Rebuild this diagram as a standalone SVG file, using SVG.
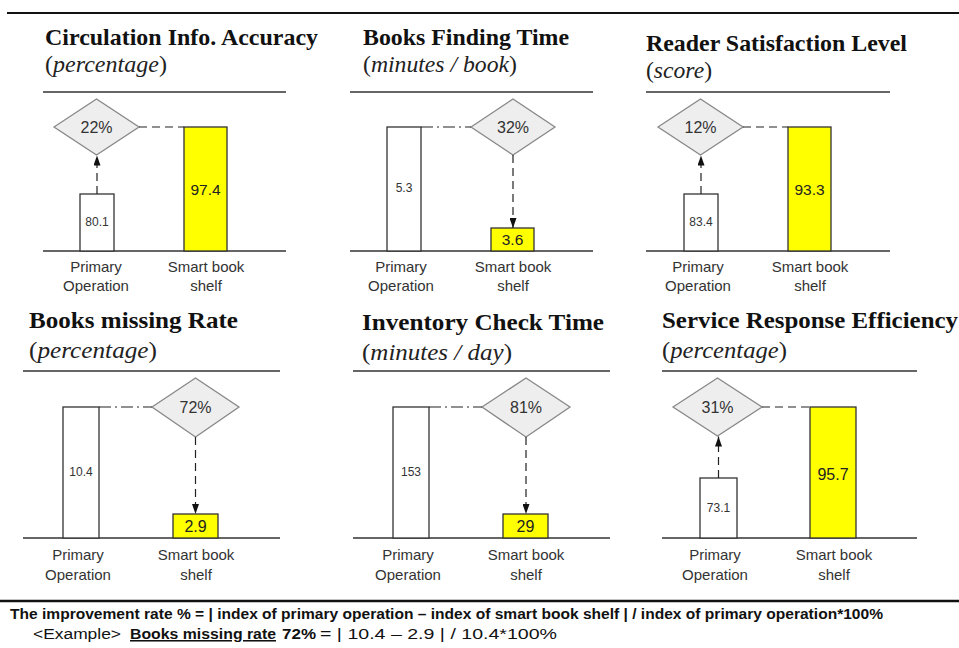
<svg xmlns="http://www.w3.org/2000/svg" width="959" height="648" viewBox="0 0 959 648">
<defs>
<style>
.title{font-family:"Liberation Serif","Times New Roman",serif;font-weight:bold;font-size:23px;fill:#111}
.unit{font-family:"Liberation Serif","Times New Roman",serif;font-size:23px;fill:#222}
.it{font-style:italic}
.rule{stroke:#333;stroke-width:1.3}
.thick{stroke:#111;stroke-width:2.2}
.bar{fill:#fff;stroke:#333;stroke-width:1.3}
.ybar{fill:#ffff00;stroke:#333;stroke-width:1.3}
.dia{fill:#eeeeee;stroke:#888;stroke-width:1.3}
.num{font-family:"Liberation Sans",Arial,sans-serif;fill:#333;text-anchor:middle}
.pct{font-size:16px}
.big{font-size:15.5px;fill:#222}
.sm{font-size:12px}
.lbl{font-family:"Liberation Sans",Arial,sans-serif;font-size:15px;fill:#333;text-anchor:middle}
.dash{stroke:#222;stroke-width:1.2;stroke-dasharray:8 5;fill:none}
.dashdot{stroke:#222;stroke-width:1.2;stroke-dasharray:12 4 2 4;fill:none}
.note{font-family:"Liberation Sans",Arial,sans-serif;font-size:14px;fill:#111}
.note2{font-family:"Liberation Sans",Arial,sans-serif;font-size:15.5px;fill:#111}
.b{font-weight:bold}
</style>
<marker id="ah" viewBox="0 0 10 7" refX="10" refY="3.5" markerWidth="10" markerHeight="7" markerUnits="userSpaceOnUse" orient="auto">
<path d="M0,0 L10,3.5 L0,7 z" fill="#111"/>
</marker>
</defs>
<rect width="959" height="648" fill="#fff"/>
<line class="thick" x1="7" y1="13" x2="959" y2="13"/>

<!-- Panel 1 -->
<g id="panel1">
<text class="title" x="45" y="45" textLength="273" lengthAdjust="spacingAndGlyphs">Circulation Info. Accuracy</text>
<text class="unit" x="45" y="72" textLength="122" lengthAdjust="spacingAndGlyphs">(<tspan class="it">percentage</tspan>)</text>
<line class="rule" x1="43" y1="92" x2="286" y2="92"/>
<line class="rule" x1="43" y1="251" x2="286" y2="251"/>
<g id="p1-rate"><polygon class="dia" points="54,127 96.5,99 139,127 96.5,155"/><text class="num pct" x="96.5" y="132.5">22%</text></g>
<g id="p1-primary"><rect class="bar" x="80" y="194" width="34" height="57"/><text class="num sm" x="97" y="226">80.1</text></g>
<g id="p1-smart"><rect class="ybar" x="184" y="127" width="43" height="124"/><text class="num big" x="205.5" y="195">97.4</text></g>
<text class="lbl" x="96" y="272">Primary</text><text class="lbl" x="96" y="291">Operation</text>
<text class="lbl" x="206" y="272">Smart book</text><text class="lbl" x="206" y="291">shelf</text>
</g>

<!-- Panel 2 -->
<g id="panel2">
<text class="title" x="363" y="45" textLength="206" lengthAdjust="spacingAndGlyphs">Books Finding Time</text>
<text class="unit" x="363" y="72" textLength="154" lengthAdjust="spacingAndGlyphs">(<tspan class="it">minutes / book</tspan>)</text>
<line class="rule" x1="350" y1="92" x2="593" y2="92"/>
<line class="rule" x1="350" y1="251" x2="593" y2="251"/>
<g id="p2-primary"><rect class="bar" x="387" y="127" width="34" height="124"/><text class="num sm" x="404" y="192">5.3</text></g>
<g id="p2-rate"><polygon class="dia" points="471,127 513,99 555,127 513,155"/><text class="num pct" x="513" y="132.5">32%</text></g>
<g id="p2-smart"><rect class="ybar" x="491" y="228" width="43" height="23"/><text class="num big" x="512.5" y="245">3.6</text></g>
<text class="lbl" x="401" y="272">Primary</text><text class="lbl" x="401" y="291">Operation</text>
<text class="lbl" x="513" y="272">Smart book</text><text class="lbl" x="513" y="291">shelf</text>
</g>

<!-- Panel 3 -->
<g id="panel3">
<text class="title" x="646" y="51" textLength="261" lengthAdjust="spacingAndGlyphs">Reader Satisfaction Level</text>
<text class="unit" x="646" y="78" textLength="66" lengthAdjust="spacingAndGlyphs">(<tspan class="it">score</tspan>)</text>
<line class="rule" x1="646" y1="92" x2="890" y2="92"/>
<line class="rule" x1="646" y1="251" x2="890" y2="251"/>
<g id="p3-rate"><polygon class="dia" points="658,127 700.5,99 743,127 700.5,155"/><text class="num pct" x="700.5" y="132.5">12%</text></g>
<g id="p3-primary"><rect class="bar" x="684" y="194" width="34" height="57"/><text class="num sm" x="701" y="226">83.4</text></g>
<g id="p3-smart"><rect class="ybar" x="788" y="127" width="43" height="124"/><text class="num big" x="809.5" y="195">93.3</text></g>
<text class="lbl" x="698" y="272">Primary</text><text class="lbl" x="698" y="291">Operation</text>
<text class="lbl" x="810" y="272">Smart book</text><text class="lbl" x="810" y="291">shelf</text>
</g>

<!-- Panel 4 -->
<g id="panel4">
<text class="title" x="29" y="328" textLength="209" lengthAdjust="spacingAndGlyphs">Books missing Rate</text>
<text class="unit" x="29" y="358" textLength="128" lengthAdjust="spacingAndGlyphs">(<tspan class="it">percentage</tspan>)</text>
<line class="rule" x1="23" y1="371" x2="280" y2="371"/>
<line class="rule" x1="23" y1="538" x2="280" y2="538"/>
<g id="p4-primary"><rect class="bar" x="63" y="407" width="36" height="131"/><text class="num sm" x="81" y="476">10.4</text></g>
<g id="p4-rate"><polygon class="dia" points="152,407 195.5,378 239,407 195.5,437"/><text class="num pct" x="195.5" y="413">72%</text></g>
<g id="p4-smart"><rect class="ybar" x="173" y="514" width="45" height="24"/><text class="num big" x="195.5" y="531.5" style="font-size:16px">2.9</text></g>
<text class="lbl" x="78" y="560">Primary</text><text class="lbl" x="78" y="580">Operation</text>
<text class="lbl" x="196" y="560">Smart book</text><text class="lbl" x="196" y="580">shelf</text>
</g>

<!-- Panel 5 -->
<g id="panel5">
<text class="title" x="362" y="330" textLength="242" lengthAdjust="spacingAndGlyphs">Inventory Check Time</text>
<text class="unit" x="362" y="360" textLength="150" lengthAdjust="spacingAndGlyphs">(<tspan class="it">minutes / day</tspan>)</text>
<line class="rule" x1="353" y1="371" x2="610" y2="371"/>
<line class="rule" x1="353" y1="538" x2="610" y2="538"/>
<g id="p5-primary"><rect class="bar" x="393" y="407" width="36" height="131"/><text class="num sm" x="411" y="476">153</text></g>
<g id="p5-rate"><polygon class="dia" points="482,407 526,378 570,407 526,437"/><text class="num pct" x="526" y="413">81%</text></g>
<g id="p5-smart"><rect class="ybar" x="503" y="514" width="45" height="24"/><text class="num big" x="525.5" y="531.5" style="font-size:16px">29</text></g>
<text class="lbl" x="408" y="560">Primary</text><text class="lbl" x="408" y="580">Operation</text>
<text class="lbl" x="526" y="560">Smart book</text><text class="lbl" x="526" y="580">shelf</text>
</g>

<!-- Panel 6 -->
<g id="panel6">
<text class="title" x="662" y="328" textLength="296" lengthAdjust="spacingAndGlyphs">Service Response Efficiency</text>
<text class="unit" x="662" y="358" textLength="125" lengthAdjust="spacingAndGlyphs">(<tspan class="it">percentage</tspan>)</text>
<line class="rule" x1="662" y1="371" x2="917" y2="371"/>
<line class="rule" x1="662" y1="538" x2="917" y2="538"/>
<g id="p6-rate"><polygon class="dia" points="673,407 717.5,378 762,407 717.5,436"/><text class="num pct" x="717.5" y="413">31%</text></g>
<g id="p6-primary"><rect class="bar" x="700" y="478" width="37" height="60"/><text class="num sm" x="718.5" y="512">73.1</text></g>
<g id="p6-smart"><rect class="ybar" x="810" y="407" width="46" height="131"/><text class="num big" x="833" y="480" style="font-size:16px">95.7</text></g>
<text class="lbl" x="715" y="560">Primary</text><text class="lbl" x="715" y="580">Operation</text>
<text class="lbl" x="834" y="560">Smart book</text><text class="lbl" x="834" y="580">shelf</text>
</g>

<!-- Connectors -->
<g id="connectors">
<line class="dash" x1="139" y1="127" x2="184" y2="127"/>
<line class="dash" x1="97" y1="194" x2="97" y2="155.5" marker-end="url(#ah)"/>
<line class="dashdot" x1="421" y1="127" x2="471" y2="127"/>
<line class="dash" x1="513" y1="155" x2="513" y2="228" marker-end="url(#ah)"/>
<line class="dash" x1="743" y1="127" x2="788" y2="127"/>
<line class="dash" x1="701" y1="194" x2="701" y2="155.5" marker-end="url(#ah)"/>
<line class="dashdot" x1="99" y1="407" x2="152" y2="407"/>
<line class="dash" x1="195.5" y1="437" x2="195.5" y2="514" marker-end="url(#ah)"/>
<line class="dashdot" x1="429" y1="407" x2="482" y2="407"/>
<line class="dash" x1="526" y1="437" x2="526" y2="514" marker-end="url(#ah)"/>
<line class="dash" x1="762" y1="407" x2="810" y2="407"/>
<line class="dash" x1="718.5" y1="478" x2="718.5" y2="436.5" marker-end="url(#ah)"/>
</g>

<!-- Footnote -->
<g id="footnote">
<line stroke="#111" stroke-width="2.5" x1="0" y1="601" x2="959" y2="601"/>
<text class="note b" x="10" y="619" textLength="873" lengthAdjust="spacingAndGlyphs">The improvement rate % = | index of primary operation – index of smart book shelf | / index of primary operation*100%</text>
<text class="note2" y="639"><tspan x="33" textLength="88" lengthAdjust="spacingAndGlyphs">&lt;Example&gt;</tspan><tspan x="130" class="b" text-decoration="underline" textLength="146" lengthAdjust="spacingAndGlyphs">Books missing rate</tspan><tspan x="282" class="b" textLength="34" lengthAdjust="spacingAndGlyphs">72%</tspan><tspan x="320" textLength="237" lengthAdjust="spacingAndGlyphs">= | 10.4 – 2.9 | / 10.4*100%</tspan></text>
</g>
</svg>
